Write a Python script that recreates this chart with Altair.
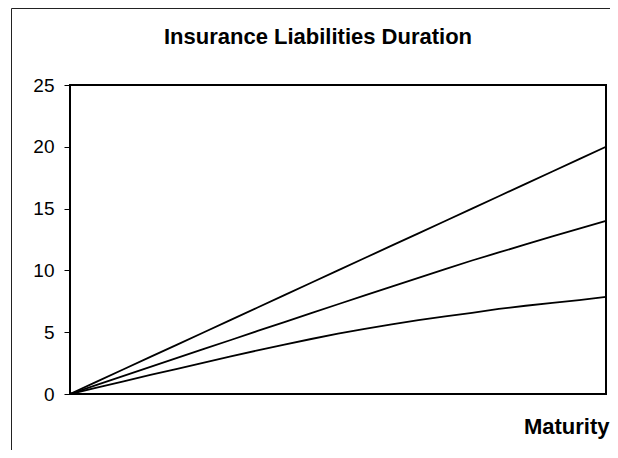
import altair as alt
import pandas as pd

maturity = list(range(0, 21))
short_coupon = [0, 0.52, 1.03, 1.54, 2.04, 2.54, 3.04, 3.53, 4.0, 4.45, 4.88,
                5.27, 5.63, 5.97, 6.28, 6.57, 6.88, 7.14, 7.38, 7.60, 7.85]
mid_coupon = [0, 0.73, 1.46, 2.19, 2.92, 3.65, 4.37, 5.10, 5.82, 6.54, 7.26,
              7.98, 8.69, 9.40, 10.10, 10.80, 11.45, 12.10, 12.75, 13.38, 14.0]
zero_coupon = [0, 1, 2, 3, 4, 5, 6, 7, 8, 9, 10,
               11, 12, 13, 14, 15, 16, 17, 18, 19, 20]
y_ticks = [0, 5, 10, 15, 20, 25]
chart_title = "Insurance Liabilities Duration"

rows = []
for name, vals in [("low", short_coupon), ("mid", mid_coupon), ("zero", zero_coupon)]:
    for m, v in zip(maturity, vals):
        rows.append({"series": name, "maturity": m, "duration": v})
df = pd.DataFrame(rows)

FONT = "Liberation Sans"
W, H = 536, 309

lines = alt.Chart(df).mark_line(color="black", strokeWidth=1.8).encode(
    x=alt.X("maturity:Q", scale=alt.Scale(domain=[0, 20], nice=False, zero=True),
            axis=alt.Axis(domain=False, ticks=False, labels=False, grid=False,
                          title="Maturity", titleFont=FONT, titleFontSize=22,
                          titleFontWeight="bold", titleColor="black",
                          titleAlign="right", titleBaseline="alphabetic",
                          titleX=W + 3, titleY=39, titleAnchor="end")),
    y=alt.Y("duration:Q", scale=alt.Scale(domain=[0, 25], nice=False),
            axis=alt.Axis(values=y_ticks, domain=False, grid=False, ticks=True,
                          tickSize=6, tickColor="black", tickWidth=1,
                          labelFont=FONT, labelFontSize=19, labelColor="black",
                          labelPadding=10, title=None)),
    detail="series:N",
)

one = alt.Data(values=[{}])
frame = alt.Chart(one).mark_rect(fill=None, fillOpacity=0, stroke="#222222", strokeWidth=1).encode(
    x=alt.value(-58.5), x2=alt.value(W + 60), y=alt.value(-76.5), y2=alt.value(H + 100)
)
title = alt.Chart(one).mark_text(
    text=chart_title, font=FONT, fontSize=22, fontWeight="bold", color="black",
    align="center", baseline="alphabetic"
).encode(x=alt.value(248), y=alt.value(-41))

chart = alt.layer(frame, lines, title).properties(
    width=W, height=H,
    autosize=alt.AutoSizeParams(type="none"),
    padding={"left": 62, "top": 77, "right": 4, "bottom": 56},
).configure(background="white").configure_view(stroke="black", strokeWidth=2)

chart.save("out.html", embed_options={"renderer": "svg", "actions": False})
